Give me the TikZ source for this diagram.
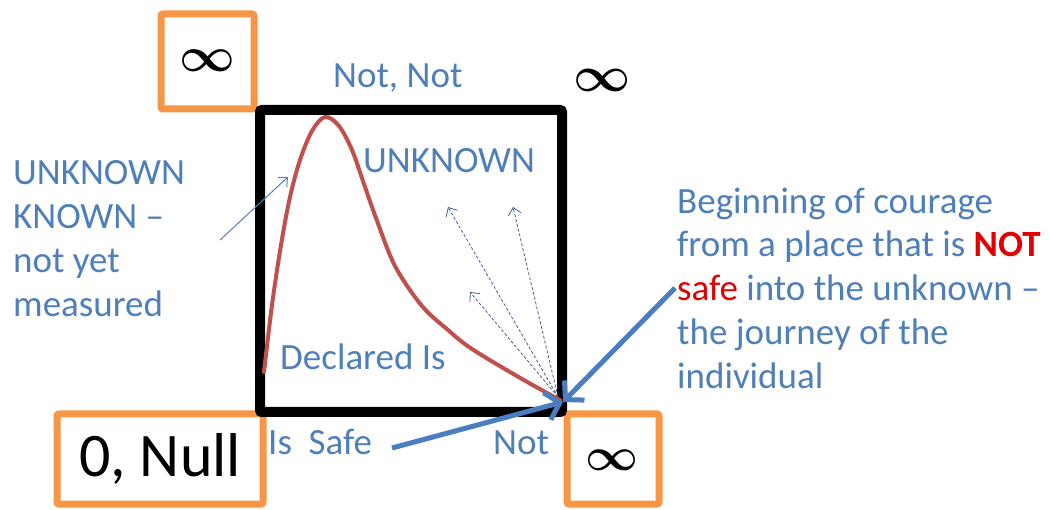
\documentclass[tikz,border=0pt]{standalone}
\usepackage{fontspec}
\setmainfont{Carlito}
\usetikzlibrary{arrows.meta}
\definecolor{txtblue}{RGB}{79,127,185}
\definecolor{arrblue}{RGB}{74,126,193}
\definecolor{boxorange}{RGB}{247,150,70}
\definecolor{curvered}{RGB}{192,80,77}
\definecolor{notred}{RGB}{225,0,0}
\definecolor{dashblue}{RGB}{70,95,140}
\definecolor{thinblue}{RGB}{90,130,175}
\begin{document}
\begin{tikzpicture}[x=1pt,y=-1pt,
  lbl/.style={text=txtblue, font=\fontsize{37}{44}\selectfont, inner sep=0pt, anchor=base west, align=left},
  obox/.style={draw=boxorange, line width=7pt, rounded corners=2pt, inner sep=0pt, fill=white},
  infsym/.style={inner sep=0pt, font=\fontsize{24.88}{25}\selectfont\boldmath},
  bigarrow/.style={draw=arrblue, line width=5pt, -{Straight Barb[length=13pt,width=28pt,line width=5pt]}},
  thinarrow/.style={draw=thinblue, line width=1pt, -{Straight Barb[length=7pt,width=13pt]}},
  dasharrow/.style={draw=dashblue, line width=0.8pt, dash pattern=on 3pt off 2pt, -{Straight Barb[length=7pt,width=13pt]}},
  framebox/.style={draw=black, line width=10pt, rounded corners=2pt, inner sep=0pt}
]
\fill[white] (0,0) rectangle (1050,510);
\useasboundingbox (0,0) rectangle (1050,510);

% orange boxes
\node[obox, minimum width=93pt, minimum height=95pt] (infTL) at (207.5,61.5) {};
\node[infsym] (infTLs) at (207,61) {\scalebox{1.95}{$\infty$}};
\node[obox, minimum width=206pt, minimum height=90pt, font=\fontsize{62}{62}\selectfont] (null) at (160,459) {0, Null};
\node[obox, minimum width=92pt, minimum height=90pt] (infBR) at (613,459) {};
\node[infsym] (infBRs) at (612,460) {\scalebox{1.85}{$\infty$}};

% black frame
\node[framebox, minimum width=302pt, minimum height=302pt] (frame) at (411,261) {};

% free infinity
\node[infsym] (infTR) at (602,80) {\scalebox{2.0}{$\infty$}};

% red curve
\draw[curvered, line width=4pt, line cap=round] plot[smooth, tension=0.55] coordinates {
  (264,372) (272,305) (281,245) (290,197) (300,160) (312,131) (325,117)
  (339,126) (352,150) (364,184) (376,218) (395,266) (422,306) (448,330)
  (472,349) (522,379) (560,400)};

% texts
\node[lbl] (leftTxt) at (13,317) {UNKNOWN\\KNOWN –\\not yet\\measured};
\node[lbl] (notnot) at (333,88) {Not, Not};
\node[lbl] (unk) at (363,173) {UNKNOWN};
\node[lbl] (decl) at (280,370) {Declared Is};
\node[lbl] (issafe) at (268,455) {Is~~Safe};
\node[lbl] (notB) at (493,455) {Not};
\node[lbl] (rightTxt) at (677,389) {Beginning of courage\\from a place that is \textcolor{notred}{\textbf{NOT}}\\\textcolor{notred}{safe} into the unknown –\\the journey of the\\individual};

% coordinates
\coordinate (corner) at (563,402);
\coordinate (dashO) at (558,397);
\coordinate (dA) at (448,207);
\coordinate (dB) at (513,207);
\coordinate (dC) at (470,292);
\coordinate (ukTail) at (220,240);
\coordinate (ukHead) at (288,177);
\coordinate (safeTail) at (392,448);
\coordinate (courTail) at (675,288);

% arrows
\draw[thinarrow] (ukTail) -- (ukHead);
\draw[dasharrow] (dashO) -- (dA);
\draw[dasharrow] (dashO) -- (dB);
\draw[dasharrow] (dashO) -- (dC);
\draw[bigarrow] (safeTail) -- (corner);
\draw[bigarrow] (courTail) -- (corner);
\end{tikzpicture}
\end{document}
